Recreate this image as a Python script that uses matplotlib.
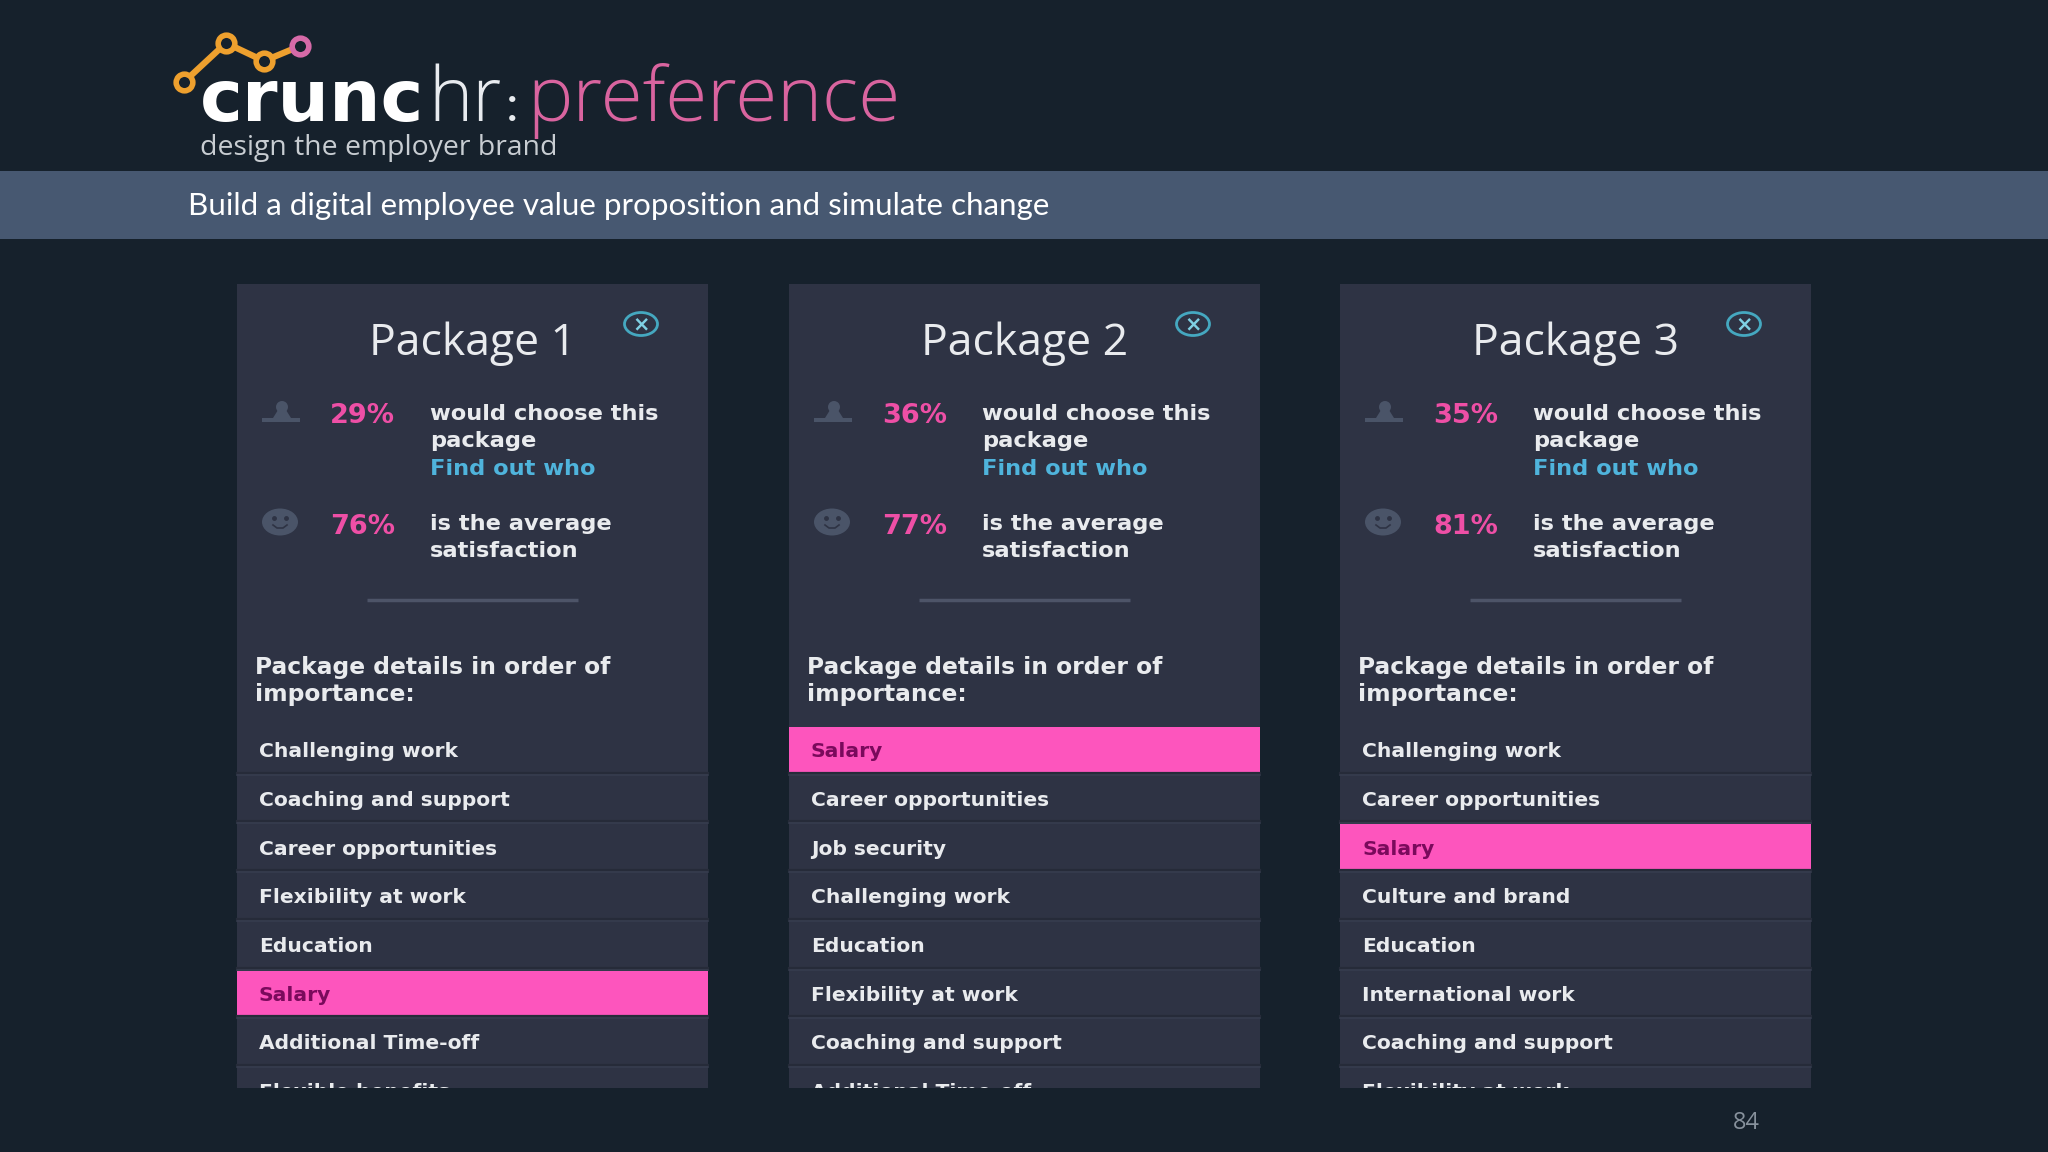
import matplotlib
matplotlib.use('Agg')
import matplotlib.pyplot as plt
from matplotlib.patches import Rectangle, Ellipse, Circle, Polygon

# slide content
packages = ['Package 1', 'Package 2', 'Package 3']
choose_share = ['29%', '36%', '35%']
satisfaction = ['76%', '77%', '81%']
details = [
    ['Challenging work', 'Coaching and support', 'Career opportunities', 'Flexibility at work',
     'Education', 'Salary', 'Additional Time-off', 'Flexible benefits'],
    ['Salary', 'Career opportunities', 'Job security', 'Challenging work',
     'Education', 'Flexibility at work', 'Coaching and support', 'Additional Time-off'],
    ['Challenging work', 'Career opportunities', 'Salary', 'Culture and brand',
     'Education', 'International work', 'Coaching and support', 'Flexibility at work'],
]
highlight = 'Salary'
logo_x = [184, 226, 264, 300]
logo_y = [82, 43, 61, 46]

BG = '#16212c'
BANNER = '#475871'
PANEL = '#2e3344'
PINK = '#fd55bd'
WHITE = '#e9ebee'
ICON = '#4a5468'
BLUE = '#4fb4dc'
UI_FONT = 'DejaVu Sans'

panel_left = [237, 789, 1340]
panel_w = 471
panel_top, panel_bottom = 284, 1088
row_top, row_h = 724, 48.7

fig = plt.figure(figsize=(20.48, 11.52), dpi=100, facecolor=BG)
ax = fig.add_axes([0, 0, 1, 1])
ax.set_xlim(0, 2048)
ax.set_ylim(1152, 0)
ax.axis('off')

# logo
ax.plot(logo_x, logo_y, color='#eea02e', lw=4.5, zorder=2)
for i in range(4):
    edge = '#d66aa8' if i == 3 else '#eea02e'
    ax.plot(logo_x[i], logo_y[i], 'o', ms=12, mfc=BG, mec=edge, mew=4, zorder=3)
ax.text(200, 121, 'crunc', color='white', fontsize=52, fontfamily=UI_FONT, fontweight='bold')
ax.text(428, 121, 'hr', color='#e8ebef', fontsize=54, fontfamily='Open Sans', fontweight='light')
ax.text(506, 121, ':', color='#e8ebef', fontsize=36, fontfamily='Lato')
ax.text(527, 121, 'preference', color='#d9649f', fontsize=55, fontfamily='Open Sans', fontweight='light')
ax.text(200, 155, 'design the employer brand', color='#c8cdd2', fontsize=20.4, fontfamily='Open Sans')

# banner
ax.add_patch(Rectangle((0, 171), 2048, 68, fc=BANNER, ec='none'))
ax.text(188, 206, 'Build a digital employee value proposition and simulate change', color='white',
        fontsize=22.6, fontfamily='Lato', va='center')

for p in range(3):
    x0 = panel_left[p]
    ax.add_patch(Rectangle((x0, panel_top), panel_w, panel_bottom - panel_top, fc=PANEL, ec='none'))

    ax.text(x0 + panel_w / 2, 355, packages[p], color=WHITE, fontsize=32, ha='center', fontfamily='Open Sans')

    # close button
    ax.add_patch(Ellipse((x0 + 404, 324), 33, 23, fc='none', ec='#45a8c0', lw=2))
    ax.text(x0 + 404, 324, '×', color='#7fd0e4', fontsize=15, fontweight='bold', ha='center', va='center', fontfamily=UI_FONT)

    # person and smiley icons
    ax.add_patch(Circle((x0 + 45, 407), 6, fc=ICON, ec='none'))
    ax.add_patch(Polygon([(x0 + 41, 410), (x0 + 49, 410), (x0 + 54, 418), (x0 + 63, 418), (x0 + 63, 422),
                          (x0 + 25, 422), (x0 + 25, 418), (x0 + 36, 418)], fc=ICON, ec='none'))
    ax.add_patch(Ellipse((x0 + 43, 522), 36, 27, fc=ICON, ec='none'))
    ax.plot([x0 + 37, x0 + 49], [518, 518], 'o', ms=2.5, color=PANEL)
    ax.plot([x0 + 36, x0 + 40, x0 + 46, x0 + 50], [525, 528, 528, 525], color=PANEL, lw=1.2)

    ax.text(x0 + 93, 423, choose_share[p], color='#ee4fa6', fontsize=19.5, fontweight='bold', fontfamily=UI_FONT)
    ax.text(x0 + 93, 534, satisfaction[p], color='#ee4fa6', fontsize=19.5, fontweight='bold', fontfamily=UI_FONT)

    for y, line, col in [(420, 'would choose this', WHITE), (447, 'package', WHITE), (475, 'Find out who', BLUE),
                         (530, 'is the average', WHITE), (557, 'satisfaction', WHITE)]:
        ax.text(x0 + 193, y, line, color=col, fontsize=16.2, fontfamily=UI_FONT, fontweight='bold')

    ax.plot([x0 + 130, x0 + 341], [600, 600], color='#4d5468', lw=2.5, solid_capstyle='butt')

    ax.text(x0 + 18, 674, 'Package details in order of', color=WHITE, fontsize=16.8, fontweight='bold', fontfamily=UI_FONT)
    ax.text(x0 + 18, 701, 'importance:', color=WHITE, fontsize=16.8, fontweight='bold', fontfamily=UI_FONT)

    clip = Rectangle((x0, panel_top), panel_w, panel_bottom - panel_top, transform=ax.transData)
    for r, label in enumerate(details[p]):
        y_top = row_top + r * row_h
        is_hit = label == highlight
        if r > 0:
            ax.plot([x0, x0 + panel_w], [y_top, y_top], color='#262b39', lw=1.6)
            ax.plot([x0, x0 + panel_w], [y_top + 2, y_top + 2], color='#363c4e', lw=1.2)
        if is_hit:
            ax.add_patch(Rectangle((x0, y_top + 3), panel_w, row_h - 4, fc=PINK, ec='none', zorder=2))
        t = ax.text(x0 + 22, y_top + 33.2, label, color='#7a0a5c' if is_hit else WHITE, fontsize=14.6,
                    fontfamily=UI_FONT, fontweight='bold', zorder=3)
        t.set_clip_on(True)
        t.set_clip_path(clip)

ax.text(1746, 1123, '84', color='#87919c', fontsize=17, ha='center', va='center', fontfamily='Open Sans')

fig.savefig('out.png', dpi=100, facecolor=BG)
